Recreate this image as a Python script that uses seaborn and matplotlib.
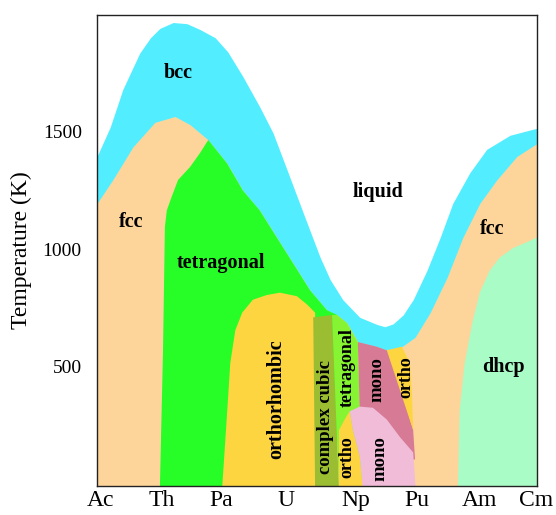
import matplotlib
matplotlib.use("Agg")
import matplotlib.pyplot as plt
import seaborn as sns

# element positions and labels along the x axis
elements = ["Ac", "Th", "Pa", "U", "Np", "Pu", "Am", "Cm"]
element_pos = [0.06, 1.03, 1.97, 3.01, 4.12, 5.09, 6.09, 6.98]
temp_ticks = [500, 1000, 1500]

# liquidus (top of bcc band)
liq_x = [0, 0.21, 0.41, 0.68, 0.85, 1.00, 1.21, 1.43, 1.64, 1.88, 2.08, 2.32, 2.59, 2.80,
         3.02, 3.28, 3.55, 3.71, 3.91, 4.18, 4.45, 4.58, 4.71, 4.87, 5.03, 5.25,
         5.46, 5.66, 5.93, 6.20, 6.57, 7.0]
liq_t = [1395, 1520, 1680, 1835, 1900, 1940, 1965, 1960, 1935, 1900, 1840, 1735, 1605, 1495,
         1340, 1155, 965, 870, 785, 710, 680, 670, 682, 720, 785, 910,
         1050, 1195, 1325, 1425, 1485, 1515]

# lower edge of the bcc band
bcc_x = [0, 0.25, 0.57, 0.92, 1.24, 1.48, 1.77, 2.07, 2.32, 2.59, 2.86, 3.12, 3.39,
         3.66, 3.82, 3.98, 4.15, 4.45, 4.66, 4.85, 5.06, 5.30, 5.57, 5.82, 6.09,
         6.36, 6.68, 7.0]
bcc_t = [1195, 1295, 1435, 1540, 1565, 1530, 1465, 1365, 1250, 1165, 1050, 940, 825,
         740, 720, 685, 605, 585, 565, 585, 625, 730, 880, 1050, 1195,
         1295, 1395, 1450]

# tetragonal (Th-U)
tet_x = [1.00, 1.05, 1.08, 1.11, 1.19, 1.29, 1.48, 1.64, 1.77, 2.07, 2.32, 2.59, 2.86,
         3.12, 3.39, 3.66, 3.82, 3.82]
tet_t = [-20, 570, 1095, 1165, 1225, 1295, 1350, 1410, 1465, 1365, 1250, 1165, 1050,
         940, 825, 740, 720, -20]

# orthorhombic (U)
orh_x = [1.99, 2.07, 2.12, 2.20, 2.31, 2.48, 2.70, 2.91, 3.18, 3.34, 3.47, 3.48]
orh_t = [-20, 305, 515, 655, 730, 785, 805, 815, 800, 765, 730, -20]

# complex cubic (Np)
cc_x = [3.44, 3.74, 3.85, 3.47]
cc_t = [710, 720, -20, -20]

# tetragonal (Np)
tnp_x = [3.74, 3.82, 3.98, 4.15, 4.22, 3.85]
tnp_t = [720, 720, 685, 605, -20, -20]

# ortho (Np)
onp_x = [3.85, 3.85, 3.95, 4.02, 4.07, 4.18, 4.23]
onp_t = [-20, 230, 280, 310, 230, 115, -20]

# mono, upper (Pu)
mo1_x = [4.15, 4.45, 4.66, 5.03, 5.06, 4.20]
mo1_t = [605, 585, 565, 230, 105, 105]

# mono, lower (Pu)
mo2_x = [4.02, 4.18, 4.39, 4.61, 4.82, 5.03, 5.07, 4.23, 4.18, 4.07]
mo2_t = [310, 330, 325, 275, 200, 135, -20, -20, 115, 230]

# ortho (Pu)
opu_x = [4.61, 4.85, 4.98, 5.01, 5.03]
opu_t = [570, 585, 515, 390, 230]

# dhcp (Am-Cm)
dh_x = [5.74, 5.77, 5.85, 5.97, 6.09, 6.25, 6.41, 6.62, 6.84, 7.0, 7.0]
dh_t = [-20, 315, 515, 685, 815, 910, 965, 1005, 1030, 1050, -20]

sns.set_theme(style="white")
plt.rcParams["font.family"] = ["Liberation Serif", "DejaVu Serif"]
plt.rcParams["text.color"] = "black"
plt.rcParams["axes.labelcolor"] = "black"
plt.rcParams["xtick.color"] = "black"
plt.rcParams["ytick.color"] = "black"

fig = plt.figure(figsize=(5.56, 5.15), dpi=100)
ax = fig.add_axes([0.1745, 0.0563, 0.7913, 0.9146])

# -------- phase regions, painted back to front --------
ax.fill_between(liq_x, -20, liq_t, color="#52eeff", lw=0)
ax.fill_between(bcc_x, -20, bcc_t, color="#fdd59b", lw=0)
ax.fill(tet_x, tet_t, color="#27fd27", lw=0)
ax.fill(orh_x, orh_t, color="#fdd540", lw=0)
ax.fill(cc_x, cc_t, color="#9bbd32", lw=0)
ax.fill(tnp_x, tnp_t, color="#86f432", lw=0)
ax.fill(onp_x, onp_t, color="#fdd540", lw=0)
ax.fill(mo1_x, mo1_t, color="#d77a96", lw=0)
ax.fill(mo2_x, mo2_t, color="#f0bcd8", lw=0)
ax.fill(opu_x, opu_t, color="#fdd540", lw=0)
ax.fill(dh_x, dh_t, color="#aafcc6", lw=0)

# -------- labels --------
lab = dict(fontweight="bold", ha="center", va="center", color="black")
ax.text(1.29, 1750, "bcc", fontsize=14.5, **lab)
ax.text(4.47, 1245, "liquid", fontsize=14.5, **lab)
ax.text(0.54, 1115, "fcc", fontsize=14.5, **lab)
ax.text(6.28, 1085, "fcc", fontsize=14.5, **lab)
ax.text(1.97, 940, "tetragonal", fontsize=14.5, **lab)
ax.text(6.46, 500, "dhcp", fontsize=14.5, **lab)
ax.text(2.85, 360, "orthorhombic", fontsize=14.5, rotation=90, **lab)
ax.text(3.64, 285, "complex cubic", fontsize=13.5, rotation=90, **lab)
ax.text(3.98, 495, "tetragonal", fontsize=13, rotation=90, **lab)
ax.text(3.98, 115, "ortho", fontsize=13, rotation=90, **lab)
ax.text(4.45, 445, "mono", fontsize=13.5, rotation=90, **lab)
ax.text(4.50, 110, "mono", fontsize=13.5, rotation=90, **lab)
ax.text(4.92, 455, "ortho", fontsize=13, rotation=90, **lab)

ax.set_xlim(0, 7)
ax.set_ylim(-8, 1997)
ax.set_xticks(element_pos)
ax.set_xticklabels(elements, fontsize=17)
ax.set_yticks(temp_ticks)
ax.set_yticklabels([str(t) for t in temp_ticks], fontsize=14)
ax.tick_params(axis="x", length=0, pad=3)
ax.tick_params(axis="y", length=0, pad=11)
ax.set_ylabel("Temperature (K)", fontsize=17, labelpad=8)
for s in ax.spines.values():
    s.set_color("#222222")
    s.set_linewidth(1.0)

fig.savefig("out.png", dpi=100)
plt.close()
